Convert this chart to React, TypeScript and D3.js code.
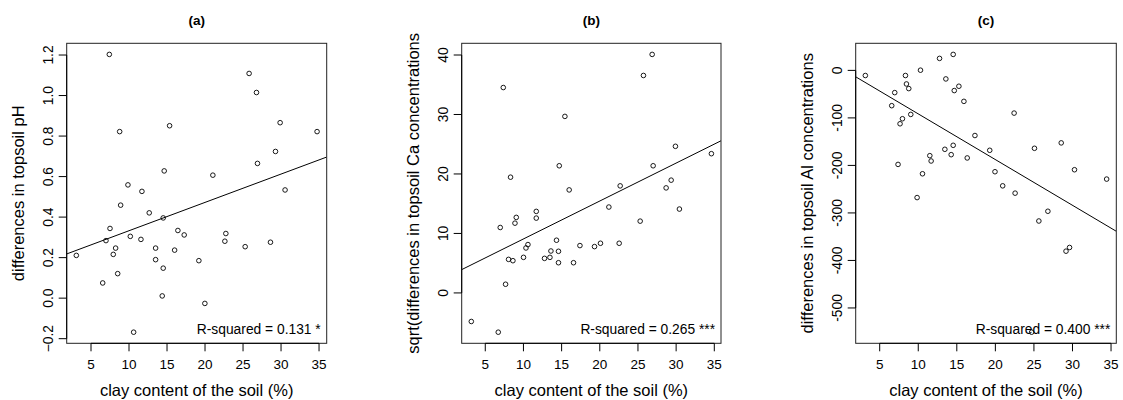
import React from "react";
import * as d3 from "d3";

// ---------- data ----------
const xTicks = [5, 10, 15, 20, 25, 30, 35];

const clayA = [7.41, 8.77, 15.34, 14.63, 9.86, 11.70, 8.90, 12.66, 14.50, 7.50, 16.43, 17.26, 6.97, 10.17, 11.57, 8.24, 13.50, 7.93, 3.07, 16.00, 13.50, 14.50, 8.51, 6.54, 14.37, 10.61, 25.80, 26.77, 29.88, 34.74, 29.27, 26.90, 21.03, 30.53, 22.74, 22.61, 25.28, 28.61, 19.19, 19.98];
const phDiff = [1.203, 0.822, 0.851, 0.628, 0.559, 0.527, 0.459, 0.421, 0.396, 0.344, 0.334, 0.312, 0.284, 0.305, 0.290, 0.247, 0.247, 0.216, 0.211, 0.237, 0.190, 0.148, 0.121, 0.075, 0.011, -0.168, 1.109, 1.015, 0.866, 0.822, 0.724, 0.665, 0.607, 0.534, 0.319, 0.281, 0.254, 0.276, 0.185, -0.026];
const yTicksA = [-0.2, 0.0, 0.2, 0.4, 0.6, 0.8, 1.0, 1.2];
const fitA = [0.193, 0.01398]; // intercept, slope

const clayB = [7.36, 15.43, 14.69, 8.31, 15.99, 11.68, 11.68, 9.06, 8.89, 6.96, 14.33, 10.59, 10.33, 17.40, 13.60, 14.59, 10.01, 8.05, 8.62, 12.76, 13.47, 14.59, 16.56, 7.66, 3.17, 6.70, 26.86, 25.72, 29.91, 34.62, 26.99, 29.35, 28.69, 22.67, 21.19, 30.43, 25.29, 19.31, 20.09, 22.54];
const caDiff = [34.53, 29.68, 21.38, 19.46, 17.32, 13.71, 12.58, 12.70, 11.73, 11.00, 8.86, 8.13, 7.56, 7.96, 7.05, 7.00, 5.98, 5.64, 5.42, 5.81, 5.98, 5.08, 5.08, 1.46, -4.80, -6.60, 40.10, 36.56, 24.65, 23.41, 21.38, 18.96, 17.66, 18.00, 14.44, 14.10, 12.07, 7.79, 8.35, 8.35];
const yTicksB = [0, 10, 20, 30, 40];
const fitB = [2.70, 0.6377];

const clayC = [14.53, 12.76, 3.14, 10.29, 8.34, 13.58, 8.47, 8.77, 15.27, 14.67, 6.95, 15.92, 6.56, 9.03, 7.95, 7.64, 17.35, 14.53, 13.45, 14.27, 11.50, 11.67, 16.35, 7.38, 10.55, 9.85, 22.43, 19.27, 25.07, 28.54, 19.95, 30.26, 34.43, 20.95, 22.56, 26.81, 25.64, 29.16, 29.62, 24.7];
const alDiff = [33.6, 25.2, -10.8, 0.4, -10.8, -18.0, -28.6, -38.3, -33.4, -42.5, -46.8, -65.2, -74.3, -92.7, -101.8, -112.4, -137.1, -157.7, -166.1, -177.4, -179.5, -190.7, -184.3, -197.9, -217.6, -267.7, -89.9, -168.2, -164.0, -152.6, -213.3, -209.1, -228.8, -243.0, -258.4, -296.5, -317.0, -380.5, -372.7, -551];
const yTicksC = [0, -100, -200, -300, -400, -500];
const fitC = [4.65, -9.62];

const titles = ["(a)", "(b)", "(c)"];
const yLabels = [
  "differences in topsoil pH",
  "sqrt(differences in topsoil Ca concentrations",
  "differences in topsoil Al concentrations",
];
const xLabel = "clay content of the soil (%)";
const rsqLabels = ["R-squared = 0.131 *", "R-squared = 0.265 ***", "R-squared = 0.400 ***"];

// ---------- layout ----------
const FONT = "'Liberation Sans', Arial, Helvetica, sans-serif";
const TOP = 43.3;
const BOTTOM = 343.3;
const boxes = [
  [66.7, 326.7],
  [461.7, 721],
  [855.7, 1116.3],
];

function padDomain(v: number[]): [number, number] {
  const [mn, mx] = d3.extent(v) as [number, number];
  const p = (mx - mn) * 0.04;
  return [mn - p, mx + p];
}

type PanelProps = {
  idx: number;
  xs: number[];
  ys: number[];
  yTicks: number[];
  yFmt: (v: number) => string;
  fit: number[];
};

function Panel({ idx, xs, ys, yTicks, yFmt, fit }: PanelProps) {
  const [L, R] = boxes[idx];
  const x = d3.scaleLinear().domain(padDomain(xs)).range([L, R]);
  const y = d3.scaleLinear().domain(padDomain(ys)).range([BOTTOM, TOP]);
  const [x0, x1] = x.domain();
  const lineGen = d3
    .line<number>()
    .x((d) => x(d))
    .y((d) => y(fit[0] + fit[1] * d));
  const clipId = `clip${idx}`;
  const cx = (L + R) / 2;
  const cy = (TOP + BOTTOM) / 2;
  return (
    <g>
      <defs>
        <clipPath id={clipId}>
          <rect x={L} y={TOP} width={R - L} height={BOTTOM - TOP} />
        </clipPath>
      </defs>
      <text x={cx} y={20.7} dy="0.35em" textAnchor="middle" fontWeight="bold" fontSize={13.5}>
        {titles[idx]}
      </text>
      {/* points */}
      {xs.map((d, i) => (
        <circle key={i} cx={x(d)} cy={y(ys[i])} r={2.3} fill="none" stroke="#000" strokeWidth={0.9} />
      ))}
      {/* regression line */}
      <path d={lineGen([x0, x1]) || ""} stroke="#000" strokeWidth={1} fill="none" clipPath={`url(#${clipId})`} />
      {/* box */}
      <rect x={L} y={TOP} width={R - L} height={BOTTOM - TOP} fill="none" stroke="#222" strokeWidth={1} />
      {/* x axis */}
      <line x1={x(xTicks[0])} x2={x(xTicks[xTicks.length - 1])} y1={BOTTOM} y2={BOTTOM} stroke="#000" />
      {xTicks.map((t) => (
        <g key={t}>
          <line x1={x(t)} x2={x(t)} y1={BOTTOM} y2={BOTTOM + 8} stroke="#000" />
          <text x={x(t)} y={364} dy="0.35em" textAnchor="middle" fontSize={13.5}>
            {t}
          </text>
        </g>
      ))}
      <text x={cx} y={390} dy="0.35em" textAnchor="middle" fontSize={16.5}>
        {xLabel}
      </text>
      {/* y axis */}
      <line x1={L} x2={L} y1={y(yTicks[0])} y2={y(yTicks[yTicks.length - 1])} stroke="#000" />
      {yTicks.map((t) => (
        <g key={t}>
          <line x1={L - 8} x2={L} y1={y(t)} y2={y(t)} stroke="#000" />
          <text
            transform={`translate(${L - 18.7},${y(t)}) rotate(-90)`}
            dy="0.35em"
            textAnchor="middle"
            fontSize={13.8}
          >
            {yFmt(t)}
          </text>
        </g>
      ))}
      <text transform={`translate(${L - 48.7},${cy}) rotate(-90)`} dy="0.35em" textAnchor="middle" fontSize={16.5}>
        {yLabels[idx]}
      </text>
      {/* R-squared */}
      <text x={R - 6} y={329} dy="0.35em" textAnchor="end" fontSize={13.8}>
        {rsqLabels[idx]}
      </text>
    </g>
  );
}

export default function App() {
  return (
    <svg
      width={1123}
      height={400}
      style={{ position: "absolute", left: 0, top: 0, background: "#fff" }}
      fontFamily={FONT}
      fill="#000"
    >
      <rect x={0} y={0} width={1123} height={400} fill="#fff" />
      <Panel idx={0} xs={clayA} ys={phDiff} yTicks={yTicksA} yFmt={d3.format(".1f")} fit={fitA} />
      <Panel idx={1} xs={clayB} ys={caDiff} yTicks={yTicksB} yFmt={(v) => String(v)} fit={fitB} />
      <Panel idx={2} xs={clayC} ys={alDiff} yTicks={yTicksC} yFmt={(v) => String(v)} fit={fitC} />
    </svg>
  );
}
